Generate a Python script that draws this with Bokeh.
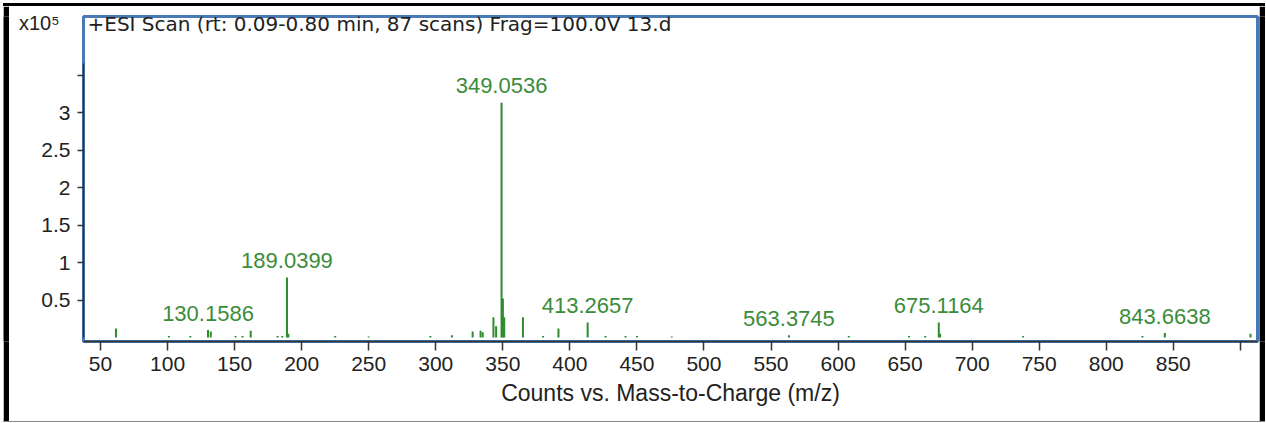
from bokeh.plotting import figure
from bokeh.models import Range1d, FixedTicker, Label, LinearAxis, Spacer
from bokeh.layouts import row, column
from bokeh.embed import file_html
from bokeh.resources import INLINE
from bokeh.core.properties import value

# ---- data (intensity in units of 1e5 counts) ----
peak_mz = [61.5, 101.0, 117.0, 130.1586, 132.2, 150.7, 155.9, 162.0, 182.0, 185.5,
           189.0399, 190.04, 225.0, 250.0, 296.0, 312.0, 327.5, 333.4, 335.0, 343.0,
           345.0, 349.0536, 350.05, 351.05, 365.0, 380.0, 391.5, 413.2657, 426.6, 441.5,
           450.0, 476.0, 563.3745, 608.0, 653.0, 665.0, 675.1164, 676.12, 738.0, 827.0,
           843.6638, 907.6]
peak_int = [0.12, 0.02, 0.02, 0.10, 0.08, 0.02, 0.02, 0.09, 0.02, 0.02,
            0.80, 0.05, 0.02, 0.015, 0.02, 0.03, 0.08, 0.09, 0.07, 0.27,
            0.15, 3.13, 0.52, 0.27, 0.27, 0.02, 0.12, 0.20, 0.02, 0.02,
            0.02, 0.015, 0.03, 0.02, 0.02, 0.02, 0.20, 0.05, 0.02, 0.02,
            0.06, 0.05]

label_mz = [130.1586, 189.0399, 349.0536, 413.2657, 563.3745, 675.1164, 843.6638]
label_text = ["130.1586", "189.0399", "349.0536", "413.2657", "563.3745", "675.1164", "843.6638"]

x_ticks = [50, 100, 150, 200, 250, 300, 350, 400, 450, 500, 550, 600, 650, 700, 750, 800, 850, 900]
x_tick_labels = ["50", "100", "150", "200", "250", "300", "350", "400", "450", "500",
                 "550", "600", "650", "700", "750", "800", "850", ""]
y_ticks = [0.5, 1, 1.5, 2, 2.5, 3, 3.5]
y_tick_labels = ["0.5", "1", "1.5", "2", "2.5", "3", ""]

title_text = "+ESI Scan (rt: 0.09-0.80 min, 87 scans) Frag=100.0V 13.d"
x_title = "Counts vs. Mass-to-Charge (m/z)"
y_scale_text = "x10\u2075"

# ---- main figure ----
X0, X1 = 37.3, 912.8
Y0, Y1 = -0.053, 4.28
FONT = "Liberation Sans"

p = figure(width=1250, height=415, x_range=Range1d(X0, X1), y_range=Range1d(Y0, Y1),
           output_backend="svg", toolbar_location=None,
           min_border_left=74, min_border_right=2, min_border_top=10, min_border_bottom=80)
p.background_fill_color = "white"
p.border_fill_color = "white"
p.outline_line_color = "#4a7ab5"
p.outline_line_width = 3
p.xgrid.visible = False
p.ygrid.visible = False

# axes
p.xaxis.ticker = FixedTicker(ticks=x_ticks)
p.xaxis.major_label_overrides = {t: l for t, l in zip(x_ticks, x_tick_labels)}
p.yaxis.ticker = FixedTicker(ticks=y_ticks)
p.yaxis.major_label_overrides = {t: l for t, l in zip(y_ticks, y_tick_labels)}
for ax in (p.xaxis, p.yaxis):
    ax.axis_line_color = "#333333"
    ax.axis_line_width = 1.5
    ax.major_tick_line_color = "#333333"
    ax.major_tick_line_width = 1.5
    ax.minor_tick_line_color = None
    ax.major_tick_in = 0
    ax.major_label_text_font = FONT
    ax.major_label_text_font_size = "21px"
    ax.major_label_text_color = "#222222"
p.xaxis.major_tick_out = 9
p.xaxis.major_label_standoff = 6
p.yaxis.major_tick_out = 6
p.yaxis.major_label_standoff = 7
p.yaxis.bounds = (0, 3.65)
p.xaxis.axis_label = x_title
p.xaxis.axis_label_text_font = FONT
p.xaxis.axis_label_text_font_size = "23px"
p.xaxis.axis_label_text_font_style = "normal"
p.xaxis.axis_label_text_color = "#222222"
p.xaxis.axis_label_standoff = 6

# x10^5 multiplier, drawn as the single label of an extra, line-less left axis
mult_axis = LinearAxis(ticker=FixedTicker(ticks=[4.2]), major_label_overrides={4.2: y_scale_text})
mult_axis.axis_line_color = None
mult_axis.major_tick_line_color = None
mult_axis.minor_tick_line_color = None
mult_axis.major_tick_out = 0
mult_axis.major_tick_in = 0
mult_axis.major_label_standoff = -21
mult_axis.major_label_text_font = FONT
mult_axis.major_label_text_font_size = "20px"
mult_axis.major_label_text_color = "#222222"
p.add_layout(mult_axis, "left")

# peaks
zeros = [0] * len(peak_mz)
p.segment(x0=peak_mz, y0=zeros, x1=peak_mz, y1=peak_int, line_color="#2e8b2e", line_width=2)

# peak labels
lookup = dict(zip(peak_mz, peak_int))
label_int = [lookup[m] for m in label_mz]
p.text(x=label_mz, y=label_int, text=label_text, text_align="center", text_baseline="alphabetic",
       y_offset=-17, text_font=value(FONT), text_font_size="22px", text_color="#3b8c3b")

# title inside the frame
p.add_layout(Label(x=X0, y=Y1, x_offset=4, y_offset=-7, text=title_text, text_align="left",
                   text_baseline="alphabetic", text_font="DejaVu Sans", text_font_size="20px",
                   text_color="#222222"))


# ---- black frame around the whole picture ----
def strip(w, h, color):
    s = figure(width=w, height=h, output_backend="svg", toolbar_location=None,
               x_axis_type=None, y_axis_type=None, min_border=0,
               background_fill_color=color, border_fill_color=color)
    s.outline_line_color = None
    s.xgrid.visible = False
    s.ygrid.visible = False
    return s


def bar(w, h, color):
    return Spacer(width=w, height=h, styles={"background-color": color})


layout = column(
    Spacer(width=1265, height=3),
    row(Spacer(width=3, height=3), bar(1262, 3, "black")),
    row(Spacer(width=3, height=415), strip(6, 415, "black"), p, strip(6, 415, "black")),
    row(Spacer(width=3, height=1), bar(1262, 1, "#888888")),
)

open("out.html", "w").write(file_html(layout, INLINE))
